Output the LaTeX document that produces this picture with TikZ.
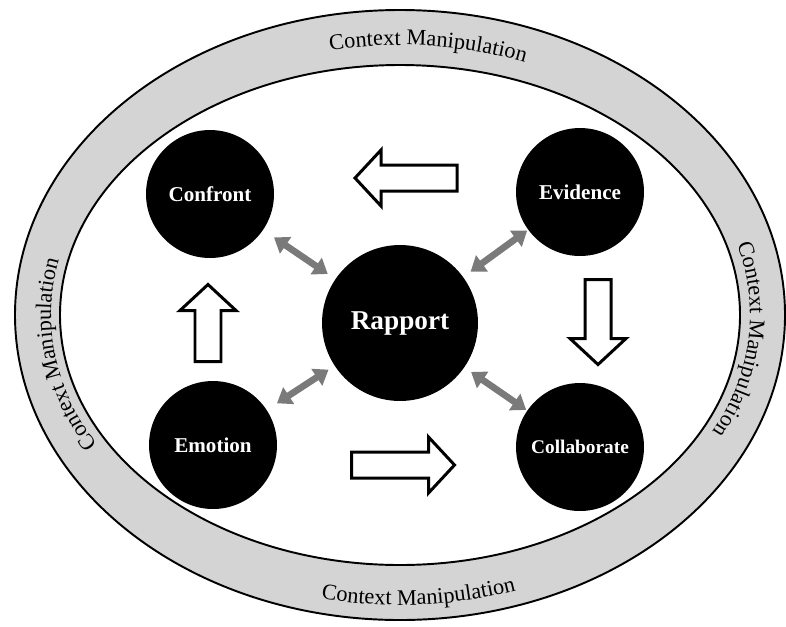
\documentclass[tikz,border=0pt]{standalone}
\usepackage{fontspec}
\setmainfont{Liberation Serif}
\usetikzlibrary{arrows.meta,decorations.text}

\definecolor{bandgray}{RGB}{212,212,212}
\definecolor{linkgray}{RGB}{122,122,122}
\newcommand\bandfont{\fontsize{12.7}{15}\selectfont}

\tikzset{
  ring/.style={draw=black, line width=1.1pt},
  bubble/.style={circle, fill=black, text=white, inner sep=0pt, minimum size=2.56cm,
    font=\fontsize{12}{14}\selectfont\bfseries},
  link/.style={linkgray, line width=3.8pt,
    {Triangle[length=8pt,width=11pt]}-{Triangle[length=8pt,width=11pt]}},
  blockline/.style={draw=black, fill=white, line width=1.7pt, line join=miter},
  bandtext/.style={decorate, decoration={text along path, text align=center,
    text={|\bandfont|Context Manipulation}}},
  pics/blockarrow/.style={code={
    \draw[blockline] (-#1/2,-13) -- (#1/2-26,-13) -- (#1/2-26,-28) -- (#1/2,0)
      -- (#1/2-26,28) -- (#1/2-26,13) -- (-#1/2,13) -- cycle;}}
}

\begin{document}
\begin{tikzpicture}[x=0.02cm, y=0.02cm]
\useasboundingbox (0,0) rectangle (786,-626);
\coordinate (mid) at (400,-315);

\draw[ring, fill=bandgray] (mid) ellipse [x radius=385, y radius=305];
\draw[ring, fill=white] (mid) ellipse [x radius=340, y radius=250];

\path[bandtext] (mid) ++(125:356 and 270) arc [start angle=125, end angle=45, x radius=356, y radius=270];
\path[bandtext] (mid) ++(253:372 and 290) arc [start angle=253, end angle=293, x radius=372, y radius=290];
\path[bandtext] (mid) ++(228:349 and 261) arc [start angle=228, end angle=148, x radius=349, y radius=261];
\path[bandtext] (mid) ++(35:350 and 261) arc [start angle=35, end angle=-45, x radius=350, y radius=261];

\node[bubble] (confront) at (210,-194) {Confront};
\node[bubble] (evidence) at (580,-192) {Evidence};
\node[bubble] (emotion) at (213,-445) {Emotion};
\node[bubble, font=\fontsize{11}{13}\selectfont\bfseries] (collaborate) at (580,-447) {Collaborate};
\node[bubble, minimum size=3.12cm, font=\fontsize{15.5}{18}\selectfont\bfseries] (rapport) at (400,-323) {Rapport};

\draw[link, shorten <=0.26cm, shorten >=0.18cm] (confront) -- (rapport);
\draw[link, shorten <=0.02cm, shorten >=0.18cm] (evidence) -- (rapport);
\draw[link, shorten <=0.24cm, shorten >=0.14cm] (emotion) -- (rapport);
\draw[link, shorten <=0.02cm, shorten >=0.16cm] (collaborate) -- (rapport);

\pic[rotate=180] at (406,-178) {blockarrow=102};
\pic[rotate=90] at (208,-323) {blockarrow=77};
\pic[rotate=-90] at (598,-322) {blockarrow=85};
\pic at (403,-465) {blockarrow=103};
\end{tikzpicture}
\end{document}
